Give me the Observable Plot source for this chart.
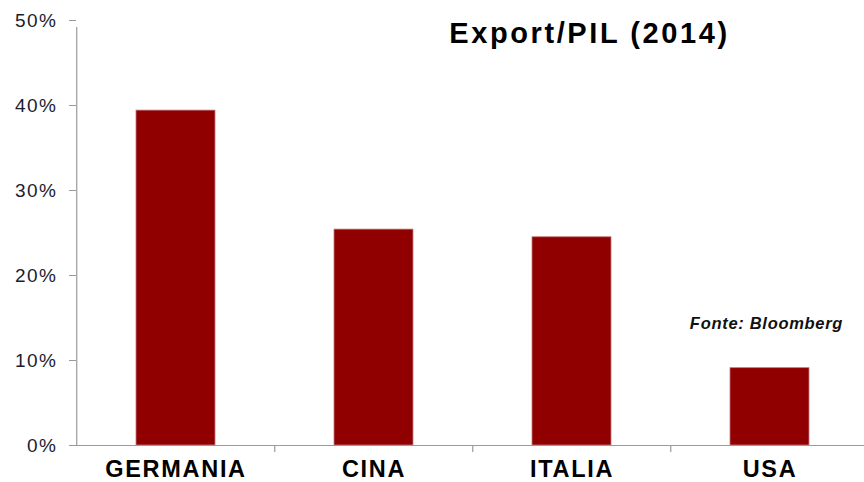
<!DOCTYPE html>
<html>
<head>
<meta charset="utf-8">
<script src="https://cdn.jsdelivr.net/npm/d3@7"></script>
<script src="https://cdn.jsdelivr.net/npm/@observablehq/plot@0.6"></script>
<style>
  html, body { margin: 0; padding: 0; background: #fff; }
  #chart svg { display: block; }
  g[aria-label="x-axis tick label"] text { letter-spacing: 1.7px; }
  g[aria-label="y-axis tick label"] text { letter-spacing: 1.5px; }
</style>
</head>
<body>
<div id="chart"></div>
<script>
// Data
const categories = ["GERMANIA", "CINA", "ITALIA", "USA"];
const values = [0.394, 0.254, 0.245, 0.091];
const yTicks = [0, 0.1, 0.2, 0.3, 0.4, 0.5];
const titleText = "Export/PIL (2014)";
const sourceText = "Fonte: Bloomberg";

const data = categories.map((c, i) => ({cat: c, value: values[i]}));

const width = 864, height = 482;
const marginLeft = 76, marginRight = -6, marginTop = 20, marginBottom = 37;
const step = (width - marginLeft - marginRight) / categories.length;
const font = "'Liberation Sans', Arial, sans-serif";
const axisGray = "#9a9a9a";

const chart = Plot.plot({
  width, height, marginLeft, marginRight, marginTop, marginBottom,
  style: {fontFamily: font, background: "#fff", overflow: "hidden"},
  x: {domain: categories, type: "band", paddingInner: 0.6, paddingOuter: 0.3, label: null},
  y: {domain: [0, 0.5], label: null},
  marks: [
    Plot.barY(data, {x: "cat", y: "value", fill: "#900000", stroke: "#c47a7a", strokeWidth: 0.8}),
    Plot.ruleY([0], {stroke: axisGray, strokeWidth: 1.2}),
    // y axis line (at left edge of first band interval)
    Plot.ruleX([categories[0]], {x: d => d, dx: -step / 2, y1: 0, y2: 0.5, insetBottom: -7, stroke: axisGray, strokeWidth: 1.2}),
    // category separator ticks
    Plot.ruleX(categories.slice(1), {x: d => d, dx: -step / 2, y1: 0, y2: 0, insetBottom: -7, stroke: axisGray, strokeWidth: 1.2}),
    Plot.axisY({
      ticks: yTicks, tickSize: 7, tickPadding: 12,
      tickFormat: d => Math.round(d * 100) + "%",
      stroke: axisGray, fill: "#1c1c30", fontSize: 19, label: null
    }),
    Plot.axisX({
      tickSize: 0, tickPadding: 15, fontSize: 23.5, fontWeight: "bold", fill: "#000", label: null
    }),
    Plot.text([titleText], {
      text: d => d, frameAnchor: "top", lineAnchor: "top", dx: 116, dy: 2,
      fontSize: 29, fontWeight: "bold", fill: "#000"
    }),
    Plot.text([sourceText], {
      text: d => d, frameAnchor: "top-right", textAnchor: "middle", lineAnchor: "top", dx: -104, dy: 297,
      fontSize: 16.5, fontWeight: "bold", fontStyle: "italic", fill: "#111"
    })
  ]
});

d3.select(chart).selectAll("text")
  .filter(function() { return this.textContent === titleText; })
  .style("letter-spacing", "2.6px");
d3.select(chart).selectAll("text")
  .filter(function() { return this.textContent === sourceText; })
  .style("letter-spacing", "0.7px");

document.getElementById("chart").appendChild(chart);
</script>
</body>
</html>
